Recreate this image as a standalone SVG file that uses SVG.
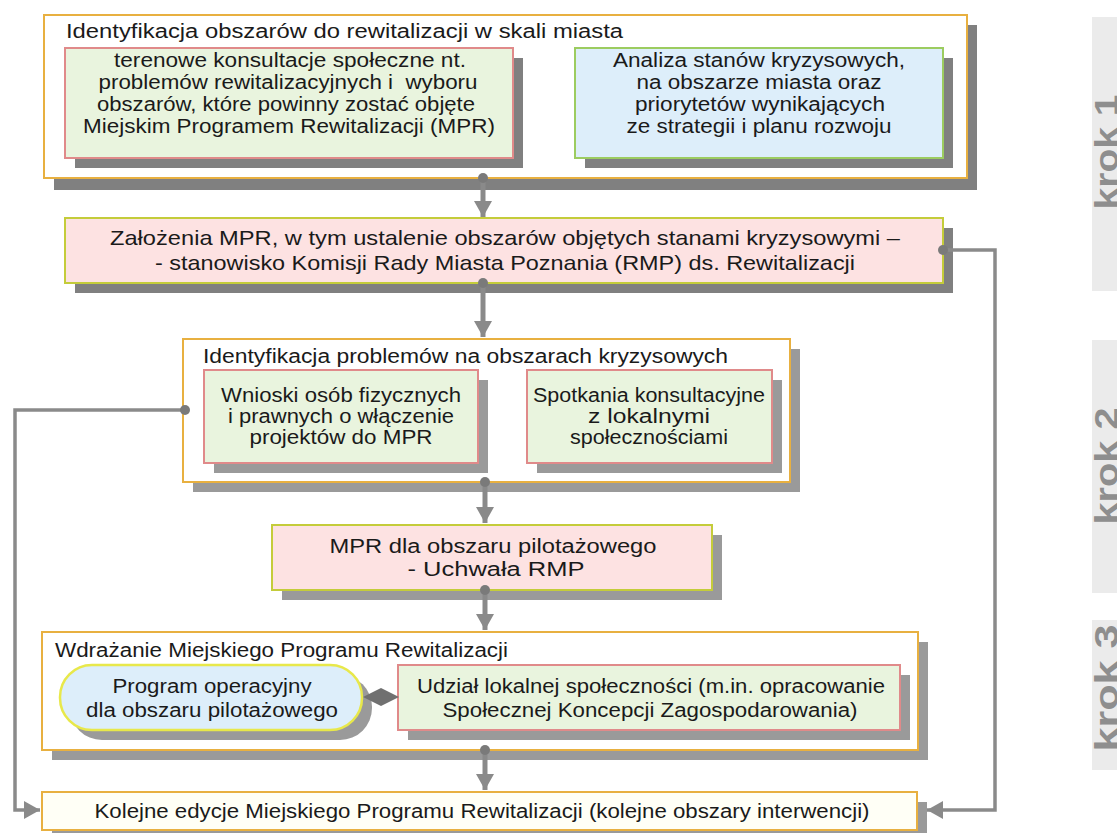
<svg xmlns="http://www.w3.org/2000/svg" width="1117" height="833" viewBox="0 0 1117 833">
<defs>
<style>
text{font-family:"Liberation Sans",Arial,sans-serif;fill:#1a1a1a;}
.t{font-size:20px;}
.t2{font-size:21px;}
.c{text-anchor:middle;}
.outer{fill:#ffffff;stroke:#e8b040;stroke-width:2;}
.shd{fill:#808080;}
.shl{fill:#9a9a9a;}
.green{fill:#e9f4de;stroke:#e08a8a;stroke-width:2;}
.blue{fill:#ddeefa;stroke:#9ccc60;stroke-width:2;}
.pink{fill:#fde2e2;stroke:#c4cc3a;stroke-width:2;}
.pill{fill:#ddeefa;stroke:#e8e84a;stroke-width:2.5;}
.k{fill:#ebebeb;}
.kt{font-size:33px;font-weight:bold;fill:#8e8e8e;}
.conn{fill:none;stroke:#8a8a8a;stroke-width:5;}
.side{fill:none;stroke:#8a8a8a;stroke-width:3.5;}
.dot{fill:#7a7a7a;}
</style>
<marker id="ah" markerUnits="userSpaceOnUse" markerWidth="20" markerHeight="20" refX="16" refY="9" orient="auto">
<polygon points="0,0 16,9 0,18" fill="#8a8a8a"/>
</marker>
</defs>

<g id="krok1"><rect class="k" x="1092" y="17" width="25" height="274"/><text class="kt c" transform="translate(1118,152) rotate(-90)" textLength="115" lengthAdjust="spacingAndGlyphs">krok 1</text></g>
<g id="krok2"><rect class="k" x="1092" y="340" width="25" height="253"/><text class="kt c" transform="translate(1118,466) rotate(-90)" textLength="117" lengthAdjust="spacingAndGlyphs">krok 2</text></g>
<g id="krok3"><rect class="k" x="1092" y="620" width="25" height="150"/><text class="kt c" transform="translate(1118,688) rotate(-90)" textLength="127" lengthAdjust="spacingAndGlyphs">krok 3</text></g>

<g id="box1">
<rect class="shd" x="54" y="25" width="923" height="165"/>
<rect class="outer" x="44" y="15" width="923" height="163"/>
<text class="t" x="66" y="38" textLength="557" lengthAdjust="spacingAndGlyphs">Identyfikacja obszarów do rewitalizacji w skali miasta</text>
</g>
<g id="box1a">
<rect class="shd" x="75" y="58" width="448" height="110"/>
<rect class="green" x="65" y="48" width="448" height="110"/>
<text class="t c" x="290" y="67" textLength="352" lengthAdjust="spacingAndGlyphs">terenowe konsultacje społeczne nt.</text>
<text class="t c" x="288" y="89" textLength="379" lengthAdjust="spacingAndGlyphs" xml:space="preserve">problemów rewitalizacyjnych i  wyboru</text>
<text class="t c" x="286" y="111" textLength="378" lengthAdjust="spacingAndGlyphs">obszarów, które powinny zostać objęte</text>
<text class="t c" x="289" y="133" textLength="412" lengthAdjust="spacingAndGlyphs">Miejskim Programem Rewitalizacji (MPR)</text>
</g>
<g id="box1b">
<rect class="shd" x="585" y="58" width="368" height="110"/>
<rect class="blue" x="575" y="48" width="368" height="110"/>
<text class="t c" x="759" y="67" textLength="292" lengthAdjust="spacingAndGlyphs">Analiza stanów kryzysowych,</text>
<text class="t c" x="759" y="89" textLength="245" lengthAdjust="spacingAndGlyphs">na obszarze miasta oraz</text>
<text class="t c" x="760" y="111" textLength="250" lengthAdjust="spacingAndGlyphs">priorytetów wynikających</text>
<text class="t c" x="759" y="133" textLength="265" lengthAdjust="spacingAndGlyphs">ze strategii i planu rozwoju</text>
</g>

<g id="box2">
<rect class="shd" x="75" y="228" width="878" height="65"/>
<rect class="pink" x="65" y="218" width="878" height="65"/>
<text class="t2 c" x="505" y="245" textLength="790" lengthAdjust="spacingAndGlyphs">Założenia MPR, w tym ustalenie obszarów objętych stanami kryzysowymi –</text>
<text class="t2 c" x="505" y="270" textLength="700" lengthAdjust="spacingAndGlyphs">- stanowisko Komisji Rady Miasta Poznania (RMP) ds. Rewitalizacji</text>
</g>

<g id="box3">
<rect class="shl" x="193" y="349" width="607" height="143"/>
<rect class="outer" x="183" y="339" width="607" height="143"/>
<text class="t" x="203" y="363" textLength="525" lengthAdjust="spacingAndGlyphs">Identyfikacja problemów na obszarach kryzysowych</text>
</g>
<g id="box3a">
<rect class="shl" x="214" y="380" width="274" height="93"/>
<rect class="green" x="204" y="370" width="274" height="93"/>
<text class="t c" x="341" y="402" textLength="240" lengthAdjust="spacingAndGlyphs">Wnioski osób fizycznych</text>
<text class="t c" x="341" y="423" textLength="226" lengthAdjust="spacingAndGlyphs">i prawnych o włączenie</text>
<text class="t c" x="341" y="444" textLength="183" lengthAdjust="spacingAndGlyphs">projektów do MPR</text>
</g>
<g id="box3b">
<rect class="shl" x="537" y="380" width="245" height="93"/>
<rect class="green" x="527" y="370" width="245" height="93"/>
<text class="t c" x="649" y="402" textLength="232" lengthAdjust="spacingAndGlyphs">Spotkania konsultacyjne</text>
<text class="t c" x="649" y="423" textLength="122" lengthAdjust="spacingAndGlyphs">z lokalnymi</text>
<text class="t c" x="649" y="444" textLength="158" lengthAdjust="spacingAndGlyphs">społecznościami</text>
</g>

<g id="box4">
<rect class="shl" x="282" y="535" width="440" height="65"/>
<rect class="pink" x="272" y="525" width="440" height="65"/>
<text class="t c" x="493" y="553" textLength="327" lengthAdjust="spacingAndGlyphs">MPR dla obszaru pilotażowego</text>
<text class="t c" x="496" y="576" textLength="177" lengthAdjust="spacingAndGlyphs">- Uchwała RMP</text>
</g>

<g id="box5">
<rect class="shl" x="52" y="642" width="876" height="118"/>
<rect class="outer" x="42" y="632" width="876" height="118"/>
<text class="t" x="55" y="657" textLength="453" lengthAdjust="spacingAndGlyphs">Wdrażanie Miejskiego Programu Rewitalizacji</text>
</g>
<g id="box5a">
<rect class="shl" x="70" y="675" width="302" height="65" rx="32"/>
<rect class="pill" x="60" y="665" width="302" height="65" rx="32"/>
<text class="t c" x="212" y="693" textLength="199" lengthAdjust="spacingAndGlyphs">Program operacyjny</text>
<text class="t c" x="212" y="717" textLength="252" lengthAdjust="spacingAndGlyphs">dla obszaru pilotażowego</text>
</g>
<g id="box5b">
<rect class="shl" x="408" y="675" width="502" height="65"/>
<rect class="green" x="398" y="665" width="502" height="65"/>
<text class="t c" x="651" y="693" textLength="468" lengthAdjust="spacingAndGlyphs">Udział lokalnej społeczności (m.in. opracowanie</text>
<text class="t c" x="650" y="717" textLength="415" lengthAdjust="spacingAndGlyphs">Społecznej Koncepcji Zagospodarowania)</text>
</g>

<g id="box6">
<rect class="shl" x="52" y="802" width="875" height="40"/>
<rect class="outer" x="42" y="792" width="875" height="38" style="fill:#fffff6"/>
<text class="t c" x="482" y="818" textLength="775" lengthAdjust="spacingAndGlyphs">Kolejne edycje Miejskiego Programu Rewitalizacji (kolejne obszary interwencji)</text>
</g>

<g id="connectors">
<path class="conn" d="M483,178 V217" marker-end="url(#ah)"/>
<circle class="dot" cx="483" cy="178" r="5"/>
<path class="conn" d="M483,283 V337" marker-end="url(#ah)"/>
<circle class="dot" cx="483" cy="283" r="5"/>
<path class="conn" d="M485,482 V523" marker-end="url(#ah)"/>
<circle class="dot" cx="485" cy="482" r="5"/>
<path class="conn" d="M485,590 V630" marker-end="url(#ah)"/>
<circle class="dot" cx="485" cy="590" r="5"/>
<path class="conn" d="M485,750 V790" marker-end="url(#ah)"/>
<circle class="dot" cx="485" cy="750" r="5"/>
<path class="side" d="M943,250 H995 V810 H927" marker-end="url(#ah)"/>
<circle class="dot" cx="943" cy="250" r="5"/>
<path class="side" d="M185,410 H15 V810 H40" marker-end="url(#ah)"/>
<circle class="dot" cx="185" cy="410" r="5"/>
<polygon points="363,697 381,688 399,697 381,706" fill="#707070"/>
</g>
</svg>
